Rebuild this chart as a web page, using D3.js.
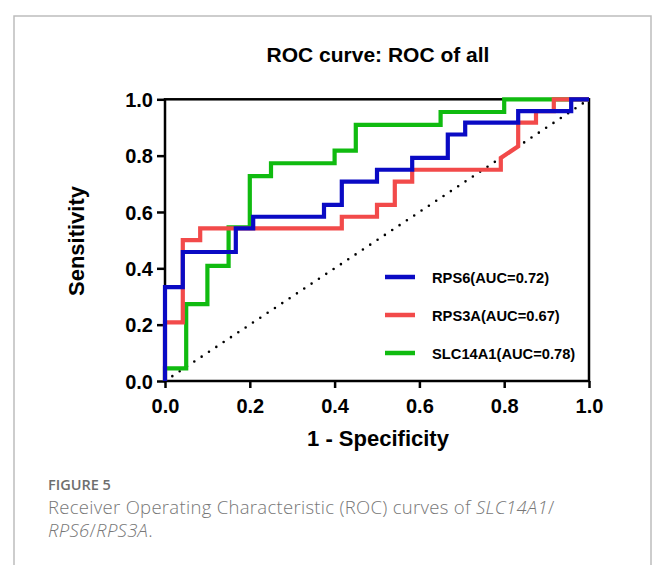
<!DOCTYPE html>
<html>
<head>
<meta charset="utf-8">
<script src="https://cdn.jsdelivr.net/npm/d3@7"></script>
<style>
  body { margin: 0; background: #fff; }
  .tick text { font-family: "Liberation Sans", Arial, sans-serif; font-weight: bold; font-size: 20px; fill: #000; }
  .tick line { stroke: #000; stroke-width: 2.5; }
  .lab { font-family: "Liberation Sans", Arial, sans-serif; font-weight: bold; fill: #000; }
  .cap { font-family: "Open Sans", sans-serif; fill: #777; }
</style>
</head>
<body>
<div id="chart"></div>
<script>
// ROC points (false positive rate, true positive rate)
var rps6Fpr = [0, 0, 0.042, 0.042, 0.167, 0.167, 0.208, 0.208, 0.375, 0.375, 0.417, 0.417, 0.5, 0.5, 0.583, 0.583, 0.667, 0.667, 0.708, 0.708, 0.833, 0.833, 0.958, 0.958, 1];
var rps6Tpr = [0, 0.333, 0.333, 0.458, 0.458, 0.542, 0.542, 0.583, 0.583, 0.625, 0.625, 0.708, 0.708, 0.75, 0.75, 0.792, 0.792, 0.875, 0.875, 0.917, 0.917, 0.958, 0.958, 1, 1];

var rps3aFpr = [0, 0, 0.042, 0.042, 0.083, 0.083, 0.417, 0.417, 0.5, 0.5, 0.542, 0.542, 0.583, 0.583, 0.792, 0.792, 0.833, 0.833, 0.875, 0.875, 0.917, 0.917, 1];
var rps3aTpr = [0, 0.208, 0.208, 0.5, 0.5, 0.542, 0.542, 0.583, 0.583, 0.625, 0.625, 0.708, 0.708, 0.75, 0.75, 0.792, 0.833, 0.917, 0.917, 0.958, 0.958, 1, 1];

var slcFpr = [0, 0, 0.05, 0.05, 0.1, 0.1, 0.15, 0.15, 0.2, 0.2, 0.25, 0.25, 0.4, 0.4, 0.45, 0.45, 0.65, 0.65, 0.8, 0.8, 1];
var slcTpr = [0, 0.045, 0.045, 0.273, 0.273, 0.409, 0.409, 0.545, 0.545, 0.727, 0.727, 0.773, 0.773, 0.818, 0.818, 0.909, 0.909, 0.955, 0.955, 1, 1];

var seriesNames = ["RPS6(AUC=0.72)", "RPS3A(AUC=0.67)", "SLC14A1(AUC=0.78)"];
var seriesColors = ["#0a0ac4", "#f24a4a", "#10bb10"];
var ticks = [0, 0.2, 0.4, 0.6, 0.8, 1.0];

var width = 657, height = 565;
var svg = d3.select("#chart").append("svg")
	.attr("width", width)
	.attr("height", height);

// outer figure frame
svg.append("path")
	.attr("d", "M14,570 V16 H651 V570")
	.attr("fill", "none")
	.attr("stroke", "#bdbdbd")
	.attr("stroke-width", 1.5);

var x = d3.scaleLinear().domain([0, 1]).range([165, 589]);
var y = d3.scaleLinear().domain([0, 1]).range([381, 99.3]);

// axes
svg.append("g")
	.attr("transform", "translate(0," + y(0) + ")")
	.call(d3.axisBottom(x).tickValues(ticks).tickFormat(d3.format(".1f")).tickSize(7).tickSizeOuter(0).tickPadding(11))
	.call(g => g.select(".domain").remove());

svg.append("g")
	.attr("transform", "translate(" + x(0) + ",0)")
	.call(d3.axisLeft(y).tickValues(ticks).tickFormat(d3.format(".1f")).tickSize(8).tickSizeOuter(0).tickPadding(4))
	.call(g => g.select(".domain").remove())
	.selectAll("text").attr("dy", "0.36em");

// plot box
svg.append("rect")
	.attr("x", x(0)).attr("y", y(1))
	.attr("width", x(1) - x(0)).attr("height", y(0) - y(1))
	.attr("fill", "none").attr("stroke", "#000").attr("stroke-width", 2.5);

// reference diagonal
svg.append("line")
	.attr("x1", x(0)).attr("y1", y(0)).attr("x2", x(1)).attr("y2", y(1))
	.attr("stroke", "#000").attr("stroke-width", 2.6)
	.attr("stroke-linecap", "round")
	.attr("stroke-dasharray", "0 8.8");

var line = d3.line().x(d => x(d[0])).y(d => y(d[1]));

var curves = [
	{ fpr: slcFpr, tpr: slcTpr, color: seriesColors[2] },
	{ fpr: rps3aFpr, tpr: rps3aTpr, color: seriesColors[1] },
	{ fpr: rps6Fpr, tpr: rps6Tpr, color: seriesColors[0] }
];

svg.selectAll(".roc").data(curves).enter().append("path")
	.attr("class", "roc")
	.attr("fill", "none")
	.attr("stroke", d => d.color)
	.attr("stroke-width", 4.2)
	.attr("d", d => line(d3.zip(d.fpr, d.tpr)));

// legend
var legend = svg.selectAll(".leg").data(seriesNames).enter().append("g")
	.attr("class", "leg")
	.attr("transform", (d, i) => "translate(385," + [277, 315, 353][i] + ")");
legend.append("line")
	.attr("x1", 0).attr("x2", 30)
	.attr("stroke", (d, i) => seriesColors[i])
	.attr("stroke-width", 4.5);
legend.append("text")
	.attr("class", "lab")
	.attr("x", 47).attr("y", 5.5)
	.style("font-size", "14.7px")
	.text(d => d);

// titles
svg.append("text").attr("class", "lab")
	.attr("x", 378).attr("y", 62).attr("text-anchor", "middle")
	.style("font-size", "21px")
	.text("ROC curve: ROC of all");

svg.append("text").attr("class", "lab")
	.attr("x", 378).attr("y", 446).attr("text-anchor", "middle")
	.style("font-size", "22px")
	.text("1 - Specificity");

svg.append("text").attr("class", "lab")
	.attr("transform", "translate(84,241) rotate(-90)")
	.attr("text-anchor", "middle")
	.style("font-size", "22px")
	.text("Sensitivity");

// caption
svg.append("text").attr("class", "cap")
	.attr("x", 48).attr("y", 490)
	.style("font-size", "14.5px").style("font-weight", 600).style("fill", "#6e6e6e")
	.text("FIGURE 5");

var cap1 = svg.append("text").attr("class", "cap")
	.attr("x", 48).attr("y", 514)
	.style("font-size", "18.5px").style("font-weight", 300).style("letter-spacing", "0.3px");
cap1.append("tspan").text("Receiver Operating Characteristic (ROC) curves of ");
cap1.append("tspan").style("font-style", "italic").text("SLC14A1");
cap1.append("tspan").text("/");

var cap2 = svg.append("text").attr("class", "cap")
	.attr("x", 48).attr("y", 537)
	.style("font-size", "18.5px").style("font-weight", 300).style("letter-spacing", "0.3px");
cap2.append("tspan").style("font-style", "italic").text("RPS6");
cap2.append("tspan").text("/");
cap2.append("tspan").style("font-style", "italic").text("RPS3A");
cap2.append("tspan").text(".");
</script>
</body>
</html>
